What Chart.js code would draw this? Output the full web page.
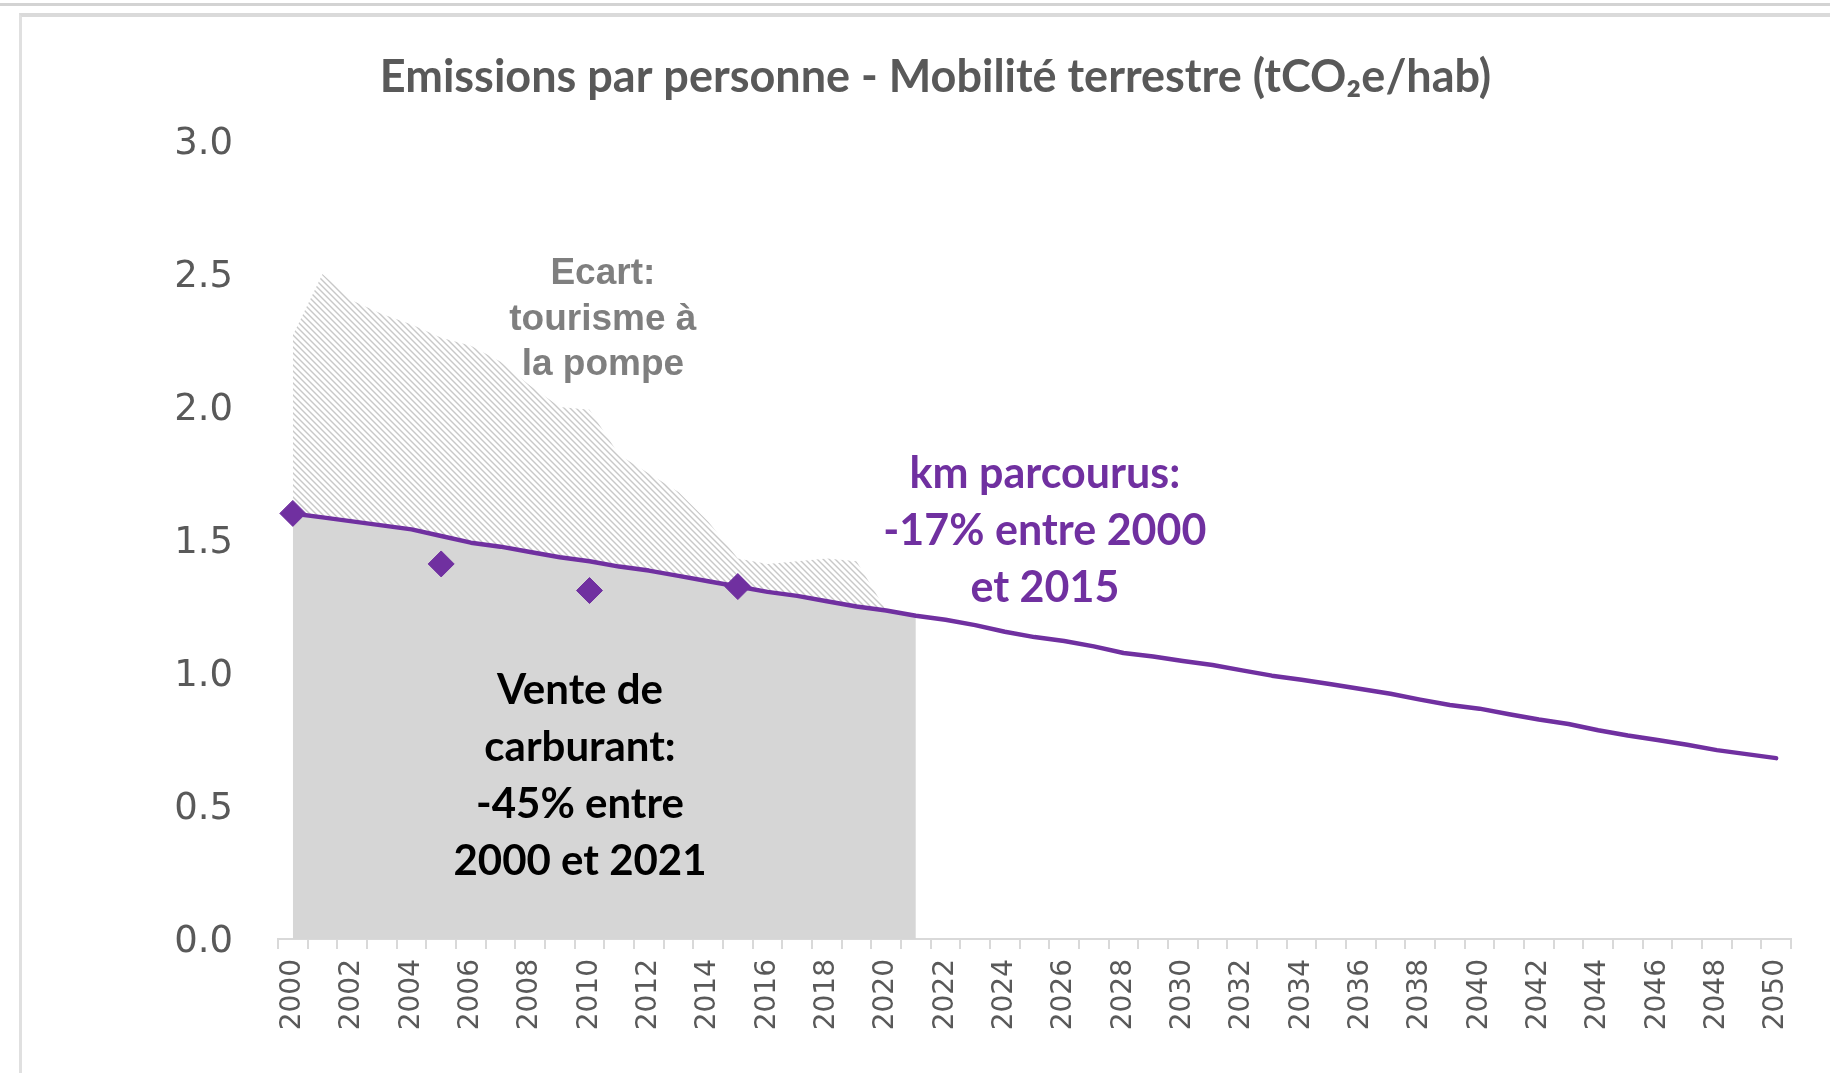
<!DOCTYPE html>
<html><head><meta charset="utf-8">
<script src="https://cdn.jsdelivr.net/npm/chart.js@4.4.1/dist/chart.umd.min.js"></script>
<style>
html,body{margin:0;padding:0;background:#fff;width:1830px;height:1073px;overflow:hidden;}
#wrap{position:absolute;left:0;top:0;width:1830px;height:1073px;}
canvas{position:absolute;left:0;top:0;}
.topline{position:absolute;left:0;top:3px;width:1830px;height:3px;background:#d3d3d3;pointer-events:none;}
.frame{position:absolute;left:19px;top:13px;width:1830px;height:1073px;border-top:4px solid #dadada;border-left:3px solid #e0e0e0;pointer-events:none;}
</style></head>
<body>
<div id="wrap"><canvas id="c" width="1830" height="1073"></canvas></div>
<div class="topline"></div><div class="frame"></div>
<script>
// ---- Data ----
const years = ['2000','2001','2002','2003','2004','2005','2006','2007','2008','2009',
  '2010','2011','2012','2013','2014','2015','2016','2017','2018','2019',
  '2020','2021','2022','2023','2024','2025','2026','2027','2028','2029',
  '2030','2031','2032','2033','2034','2035','2036','2037','2038','2039',
  '2040','2041','2042','2043','2044','2045','2046','2047','2048','2049','2050'];

// km parcourus (tCO2e/hab), 2000-2050
const kmPerPerson = [1.60,1.585,1.57,1.555,1.54,1.515,1.49,1.475,1.455,1.435,
  1.42,1.40,1.385,1.365,1.345,1.325,1.305,1.29,1.27,1.25,
  1.235,1.215,1.20,1.18,1.155,1.135,1.12,1.10,1.075,1.062,
  1.045,1.03,1.01,0.99,0.975,0.958,0.94,0.922,0.90,0.88,
  0.866,0.845,0.825,0.808,0.785,0.765,0.748,0.73,0.71,0.695,0.68];

// Vente de carburant (tCO2e/hab), 2000-2021
const fuelSales = [2.27,2.50,2.40,2.35,2.31,2.26,2.23,2.17,2.08,2.00,
  1.99,1.82,1.75,1.68,1.57,1.43,1.41,1.42,1.43,1.42,
  1.235,1.215];

// Points observés (losanges)
const surveyYears = ['2000','2005','2010','2015'];
const surveyValues = [1.60,1.41,1.31,1.325];

const yTicks = [0,0.5,1.0,1.5,2.0,2.5,3.0];

const titleText = 'Emissions par personne - Mobilité terrestre (tCO\u2082e/hab)';
const noteEcart = ['Ecart:', 'tourisme à', 'la pompe'];
const noteKm = ['km parcourus:', '-17% entre 2000', 'et 2015'];
const noteVente = ['Vente de', 'carburant:', '-45% entre', '2000 et 2021'];

// ---- Styles ----
const PURPLE = '#7030a0';
const GREY_FILL = '#d6d6d6';

function makeHatch(){
  const s = 6;
  const c = document.createElement('canvas');
  c.width = s; c.height = s;
  const g = c.getContext('2d');
  g.fillStyle = '#ffffff';
  g.fillRect(0,0,s,s);
  g.strokeStyle = '#c8c8c8';
  g.lineWidth = 1.4;
  for (const k of [-s, 0, s]) {
    g.beginPath();
    g.moveTo(k - 1, -1);
    g.lineTo(k + s + 1, s + 1);
    g.stroke();
  }
  return g.createPattern(c, 'repeat');
}

const ctx = document.getElementById('c').getContext('2d');
const hatch = makeHatch();

const greyData = years.map((y, i) => i < fuelSales.length ? kmPerPerson[i] : null);
const fuelData = years.map((y, i) => i < fuelSales.length ? fuelSales[i] : null);
const surveyData = surveyYears.map((y, i) => ({x: y, y: surveyValues[i]}));

const notes = [
  {lines: noteEcart, xIdx: 10.45, yVal: 2.50, step: 45.5, font: 'bold 37px "Liberation Sans", Arial, sans-serif', color: '#7f7f7f'},
  {lines: noteKm, xIdx: 25.35, yVal: 1.749, step: 57, font: 'bold 43px Lato, "Open Sans", sans-serif', color: PURPLE},
  {lines: noteVente, xIdx: 9.68, yVal: 0.935, step: 57, font: 'bold 42px Lato, "Open Sans", sans-serif', color: '#000000'}
];

const notesPlugin = {
  id: 'notes',
  afterDatasetsDraw(chart){
    const c = chart.ctx;
    const xs = chart.scales.x, ys = chart.scales.y;
    c.save();
    c.textAlign = 'center';
    c.textBaseline = 'middle';
    for (const n of notes) {
      c.font = n.font;
      c.fillStyle = n.color;
      const px = xs.getPixelForValue(n.xIdx);
      const py = ys.getPixelForValue(n.yVal);
      n.lines.forEach((t, i) => c.fillText(t, px, py + i * n.step));
    }
    c.restore();
  }
};

new Chart(ctx, {
  type: 'line',
  data: {
    labels: years,
    datasets: [
      {label: 'base', data: greyData, fill: 'origin', backgroundColor: GREY_FILL,
        borderWidth: 0, pointRadius: 0, order: 4, tension: 0},
      {label: 'Ecart', data: fuelData, fill: 0, backgroundColor: hatch,
        borderWidth: 0, pointRadius: 0, order: 3, tension: 0},
      {label: 'km parcourus', data: kmPerPerson, fill: false, borderColor: PURPLE,
        borderWidth: 4.5, pointRadius: 0, order: 2, tension: 0, borderCapStyle: 'round', borderJoinStyle: 'round'},
      {label: 'points', data: surveyData, showLine: false, pointStyle: 'rectRot',
        pointRadius: 13, pointBackgroundColor: PURPLE, pointBorderColor: PURPLE, pointBorderWidth: 1, order: 1}
    ]
  },
  options: {
    responsive: false,
    devicePixelRatio: 1,
    animation: false,
    layout: {padding: {left: 80, right: 39, top: 0, bottom: 0}},
    plugins: {
      legend: {display: false},
      tooltip: {enabled: false},
      title: {
        display: true, text: titleText, color: '#595959',
        font: {family: 'Lato, "Open Sans", sans-serif', weight: 'bold', size: 45, lineHeight: 1.2},
        padding: {top: 50, bottom: 37}
      }
    },
    scales: {
      x: {
        type: 'category',
        offset: true,
        grid: {display: true, drawOnChartArea: false, drawTicks: true, tickLength: 10,
          color: '#d9d9d9', lineWidth: 2, offset: true},
        border: {display: true, color: '#d9d9d9', width: 2},
        ticks: {
          autoSkip: false, maxRotation: 90, minRotation: 90, padding: 10,
          color: '#595959', font: {family: '"DejaVu Sans", sans-serif', size: 28},
          callback: function(v, i){ return (i % 2 === 0) ? years[i] : ''; }
        },
        afterFit(scale){ scale.height = 134; }
      },
      y: {
        min: 0, max: 3,
        grid: {display: false, drawTicks: false},
        border: {display: false},
        afterBuildTicks(scale){ scale.ticks = yTicks.map(v => ({value: v})); },
        ticks: {
          padding: 45, color: '#595959', labelOffset: 3,
          font: {family: '"DejaVu Sans", sans-serif', size: 37},
          callback: v => Number(v).toFixed(1)
        },
        afterFit(scale){ scale.width = 198; }
      }
    }
  },
  plugins: [notesPlugin]
});
</script>
</body></html>
